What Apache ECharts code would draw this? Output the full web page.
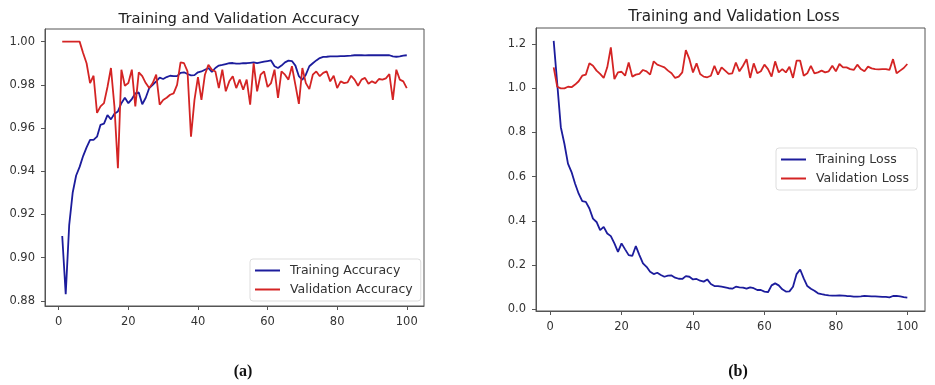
<!DOCTYPE html>
<html>
<head>
<meta charset="utf-8">
<script src="https://cdn.jsdelivr.net/npm/echarts@6/dist/echarts.min.js"></script>
<style>
html,body{margin:0;padding:0;background:#fff;}
#c{width:935px;height:385px;}
</style>
</head>
<body>
<div id="c"></div>
<script>
// ---- data ----
const epochs = Array.from({length: 100}, (_, i) => i + 1);

const trainAcc = [
  0.910, 0.883, 0.915, 0.930, 0.938, 0.942, 0.947, 0.951, 0.9545, 0.9545,
  0.956, 0.9615, 0.962, 0.966, 0.964, 0.9666, 0.9677, 0.9715, 0.974, 0.9715,
  0.9734, 0.976, 0.9765, 0.971, 0.974, 0.9785, 0.980, 0.9816, 0.9833, 0.9827,
  0.9836, 0.9842, 0.984, 0.984, 0.9855, 0.9858, 0.985, 0.9844, 0.9845, 0.9858,
  0.9862, 0.987, 0.9878, 0.986, 0.9878, 0.9889, 0.9892, 0.9896, 0.990, 0.9901,
  0.9898, 0.9898, 0.990, 0.990, 0.9902, 0.9904, 0.990, 0.9904, 0.9907, 0.991,
  0.9913, 0.9886, 0.9878, 0.9889, 0.9904, 0.9912, 0.991, 0.9889, 0.984, 0.9823,
  0.9847, 0.9886, 0.990, 0.9913, 0.9924, 0.9929, 0.993, 0.9932, 0.9932, 0.9932,
  0.9933, 0.9933, 0.9934, 0.9935, 0.9937, 0.9937, 0.9937, 0.9936, 0.9937, 0.9937,
  0.9937, 0.9937, 0.9937, 0.9937, 0.9937, 0.9932, 0.993, 0.9932, 0.9935, 0.9937
];

const valAcc = [
  1.0, 1.0, 1.0, 1.0, 1.0, 1.0, 0.9947, 0.990, 0.9808, 0.9842,
  0.967, 0.970, 0.9715, 0.979, 0.9878, 0.970, 0.9414, 0.987, 0.9796, 0.9808,
  0.987, 0.970, 0.9858, 0.984, 0.9808, 0.9785, 0.9808, 0.9847, 0.9708, 0.973,
  0.974, 0.9754, 0.976, 0.980, 0.9904, 0.990, 0.9862, 0.956, 0.973, 0.9836,
  0.973, 0.9847, 0.9893, 0.987, 0.9862, 0.9785, 0.987, 0.977, 0.9816, 0.984,
  0.9785, 0.9824, 0.9777, 0.9824, 0.9708, 0.990, 0.977, 0.9847, 0.9862, 0.979,
  0.9808, 0.987, 0.9739, 0.9862, 0.9847, 0.9824, 0.9886, 0.980, 0.9712, 0.9878,
  0.9808, 0.978, 0.9847, 0.9862, 0.984, 0.9855, 0.9862, 0.9816, 0.9842, 0.9785,
  0.9816, 0.9808, 0.9811, 0.9842, 0.9824, 0.9796, 0.9824, 0.9832, 0.9805, 0.9816,
  0.9808, 0.9827, 0.9824, 0.983, 0.985, 0.973, 0.987, 0.9824, 0.9816, 0.9785
];

const trainLoss = [
  1.215, 1.02, 0.824, 0.749, 0.659, 0.621, 0.568, 0.523, 0.489, 0.486,
  0.456, 0.41, 0.395, 0.358, 0.373, 0.343, 0.331, 0.298, 0.26, 0.298,
  0.271, 0.245, 0.241, 0.286, 0.245, 0.208, 0.192, 0.17, 0.159, 0.165,
  0.155, 0.147, 0.152, 0.153, 0.143, 0.138, 0.137, 0.15, 0.147, 0.135,
  0.137, 0.129, 0.125, 0.135, 0.114, 0.105, 0.105, 0.102, 0.099, 0.095,
  0.093, 0.102, 0.099, 0.098, 0.093, 0.099, 0.095, 0.087, 0.087, 0.08,
  0.077, 0.108, 0.117, 0.108, 0.09, 0.08, 0.081, 0.102, 0.159, 0.18,
  0.14, 0.105, 0.093, 0.084, 0.072, 0.068, 0.065, 0.063, 0.062, 0.062,
  0.063, 0.062, 0.06, 0.059, 0.057, 0.057, 0.058, 0.06, 0.059, 0.058,
  0.058, 0.057, 0.056, 0.056, 0.054, 0.06, 0.06, 0.058, 0.055, 0.053
];

const valLoss = [
  1.095, 1.007, 1.0, 1.0, 1.007, 1.005, 1.017, 1.032, 1.057, 1.062,
  1.113, 1.102, 1.08, 1.065, 1.047, 1.095, 1.185, 1.042, 1.072, 1.075,
  1.057, 1.117, 1.053, 1.062, 1.065, 1.083, 1.077, 1.062, 1.122, 1.107,
  1.101, 1.095, 1.08, 1.068, 1.047, 1.053, 1.072, 1.173, 1.132, 1.072,
  1.113, 1.065, 1.053, 1.05, 1.057, 1.102, 1.062, 1.095, 1.08, 1.065,
  1.068, 1.117, 1.077, 1.102, 1.132, 1.047, 1.113, 1.068, 1.077, 1.107,
  1.087, 1.053, 1.122, 1.072, 1.087, 1.072, 1.098, 1.047, 1.125, 1.125,
  1.057, 1.068, 1.102, 1.068, 1.072, 1.08, 1.072, 1.077, 1.102, 1.077,
  1.11, 1.095, 1.095, 1.087, 1.083, 1.107, 1.087, 1.077, 1.098, 1.09,
  1.087, 1.086, 1.087, 1.087, 1.083, 1.132, 1.068, 1.08, 1.092, 1.11
];

const xTicks = [0, 20, 40, 60, 80, 100];
const accTicks = [0.88, 0.90, 0.92, 0.94, 0.96, 0.98, 1.00];
const lossTicks = [0.0, 0.2, 0.4, 0.6, 0.8, 1.0, 1.2];

// ---- chart ----
const BLUE = '#1c1c9c';
const RED = '#d42424';
const AXIS = '#555';
const FONT = 'DejaVu Sans';

function pairs(ys) { return epochs.map((e, i) => [e, ys[i]]); }

function xAxisCfg(gi) {
  return {
    type: 'value', gridIndex: gi, min: -3.95, max: 104.95,
    axisLine: { show: true, onZero: false, lineStyle: { color: AXIS, width: 1 } },
    splitLine: { show: false },
    axisTick: { show: true, inside: false, customValues: xTicks, length: 4, lineStyle: { color: AXIS } },
    axisLabel: { customValues: xTicks, color: '#333', fontFamily: FONT, fontSize: 11.5, margin: 10 }
  };
}
function yAxisCfg(gi, min, max, ticks, dec) {
  return {
    type: 'value', gridIndex: gi, min: min, max: max,
    axisLine: { show: true, onZero: false, lineStyle: { color: AXIS, width: 1 } },
    splitLine: { show: false },
    axisTick: { show: true, inside: false, customValues: ticks, length: 4, lineStyle: { color: AXIS } },
    axisLabel: { customValues: ticks, color: '#333', fontFamily: FONT, fontSize: 11.5, margin: 10,
      formatter: v => v.toFixed(dec) }
  };
}
function lineSeries(name, data, color, xi) {
  return {
    name: name, type: 'line', xAxisIndex: xi, yAxisIndex: xi,
    data: pairs(data), symbol: 'none', showSymbol: false,
    lineStyle: { color: color, width: 1.8 }, itemStyle: { color: color },
    animation: false
  };
}
function legendCfg(names, left, top) {
  return {
    data: names, orient: 'vertical', left: left, top: top,
    icon: 'rect', itemWidth: 25, itemHeight: 2,
    backgroundColor: '#fff', borderColor: '#ddd', borderWidth: 1, borderRadius: 3,
    padding: [4, 8, 4, 5], itemGap: 4,
    textStyle: { fontFamily: FONT, fontSize: 12.5, color: '#333', padding: [0, 0, 0, 5], lineHeight: 15 }
  };
}

const chart = echarts.init(document.getElementById('c'), null, { renderer: 'canvas' });
chart.setOption({
  backgroundColor: '#fff',
  animation: false,
  title: [
    { text: 'Training and Validation Accuracy', left: 234, top: 7, textAlign: 'center',
      textStyle: { fontFamily: FONT, fontSize: 14.8, fontWeight: 'normal', color: '#222' } },
    { text: 'Training and Validation Loss', left: 729, top: 5, textAlign: 'center',
      textStyle: { fontFamily: FONT, fontSize: 15.2, fontWeight: 'normal', color: '#222' } },
    { text: '(a)', left: 238, top: 359, textAlign: 'center',
      textStyle: { fontFamily: 'Liberation Serif', fontSize: 16, fontWeight: 'bold', color: '#111' } },
    { text: '(b)', left: 733, top: 359, textAlign: 'center',
      textStyle: { fontFamily: 'Liberation Serif', fontSize: 16, fontWeight: 'bold', color: '#111' } }
  ],
  grid: [
    { left: 45, top: 29, width: 379, height: 277, show: true, borderColor: AXIS, borderWidth: 1, backgroundColor: '#fff' },
    { left: 536, top: 28, width: 389, height: 283, show: true, borderColor: AXIS, borderWidth: 1, backgroundColor: '#fff' }
  ],
  xAxis: [xAxisCfg(0), xAxisCfg(1)],
  yAxis: [
    yAxisCfg(0, 0.87758, 1.00585, accTicks, 2),
    yAxisCfg(1, -0.008, 1.273, lossTicks, 1)
  ],
  legend: [
    legendCfg(['Training Accuracy', 'Validation Accuracy'], 250, 259),
    legendCfg(['Training Loss', 'Validation Loss'], 776, 148)
  ],
  series: [
    lineSeries('Training Accuracy', trainAcc, BLUE, 0),
    lineSeries('Validation Accuracy', valAcc, RED, 0),
    lineSeries('Training Loss', trainLoss, BLUE, 1),
    lineSeries('Validation Loss', valLoss, RED, 1)
  ]
});
</script>
</body>
</html>
